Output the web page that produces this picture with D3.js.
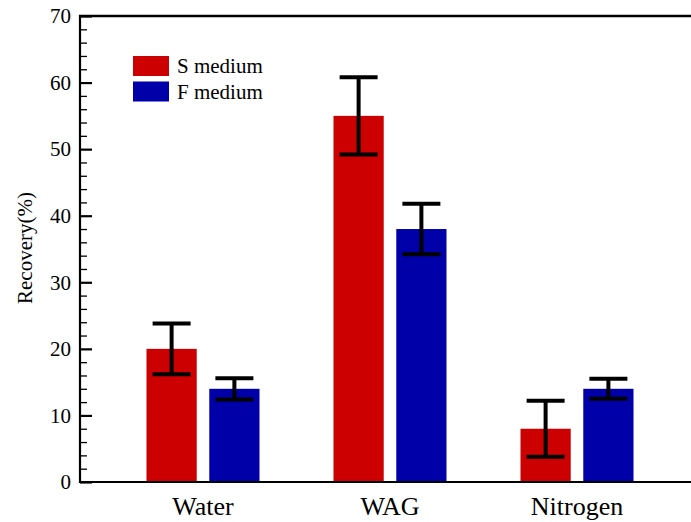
<!DOCTYPE html>
<html>
<head>
<meta charset="utf-8">
<script src="https://cdn.jsdelivr.net/npm/d3@7"></script>
<style>
  html, body { margin: 0; padding: 0; background: #fff; }
  svg { display: block; }
</style>
</head>
<body>
<svg id="chart" width="691" height="522"></svg>
<script>
const categories = ["Water", "WAG", "Nitrogen"];
const seriesNames = ["S medium", "F medium"];
const sMedium = [20, 55, 8];
const fMedium = [14, 38, 14];
const sError = [3.8, 5.8, 4.2];
const fError = [1.6, 3.8, 1.5];
const yTicks = [0, 10, 20, 30, 40, 50, 60, 70];
const colors = ["#cc0000", "#0000a8"];
const serif = "'Liberation Serif', 'Times New Roman', Times, serif";

const svg = d3.select("#chart");
const plotLeft = 80, plotTop = 16, plotBottom = 482;

const y = d3.scaleLinear().domain([0, 70]).range([plotBottom, plotTop]);
const x0 = d3.scaleBand().domain(categories).range([109.5, 670.5]).padding(0);
const x1 = d3.scaleBand().domain(seriesNames).range([-56.5, 56.5]).paddingInner(0.2);

const values = [sMedium, fMedium];
const errors = [sError, fError];
const data = [];
categories.forEach((c, i) => {
  seriesNames.forEach((s, j) => {
    data.push({cat: c, series: s, value: values[j][i], err: errors[j][i], color: colors[j]});
  });
});

// bars
svg.selectAll("rect.bar").data(data).enter().append("rect")
  .attr("class", "bar")
  .attr("x", d => x0(d.cat) + x0.bandwidth() / 2 + x1(d.series))
  .attr("width", x1.bandwidth())
  .attr("y", d => y(d.value))
  .attr("height", d => y(0) - y(d.value))
  .attr("fill", d => d.color);

// error bars
const cx = d => x0(d.cat) + x0.bandwidth() / 2 + x1(d.series) + x1.bandwidth() / 2;
const eg = svg.append("g").attr("stroke", "#000").attr("stroke-width", 4);
eg.selectAll("line.v").data(data).enter().append("line")
  .attr("x1", cx).attr("x2", cx)
  .attr("y1", d => y(d.value + d.err)).attr("y2", d => y(d.value - d.err));
eg.selectAll("line.t").data(data).enter().append("line")
  .attr("x1", d => cx(d) - 19).attr("x2", d => cx(d) + 19)
  .attr("y1", d => y(d.value + d.err)).attr("y2", d => y(d.value + d.err));
eg.selectAll("line.b").data(data).enter().append("line")
  .attr("x1", d => cx(d) - 19).attr("x2", d => cx(d) + 19)
  .attr("y1", d => y(d.value - d.err)).attr("y2", d => y(d.value - d.err));

// y axis (ticks inward)
const minorTicks = d3.range(0, 71, 2).filter(v => v % 10 !== 0);
const yAxisMinor = d3.axisRight(y).tickValues(minorTicks).tickSize(7).tickFormat("");
const gMinor = svg.append("g").attr("transform", `translate(${plotLeft},0)`).call(yAxisMinor);
gMinor.select(".domain").remove();
gMinor.selectAll("line").attr("stroke", "#000").attr("stroke-width", 1.3);

const yAxis = d3.axisRight(y).tickValues(yTicks).tickSize(12).tickFormat("");
const gY = svg.append("g").attr("transform", `translate(${plotLeft},0)`).call(yAxis);
gY.select(".domain").remove();
gY.selectAll("line").attr("stroke", "#000").attr("stroke-width", 2.2);

svg.selectAll("text.ytl").data(yTicks).enter().append("text")
  .attr("class", "ytl")
  .attr("x", plotLeft - 9).attr("y", d => y(d))
  .attr("dy", "0.35em")
  .attr("text-anchor", "end")
  .attr("font-family", serif)
  .attr("font-size", 21)
  .attr("fill", "#000")
  .text(d => d);

// frame lines
svg.append("line").attr("x1", plotLeft).attr("x2", plotLeft).attr("y1", plotTop - 1).attr("y2", plotBottom + 1)
  .attr("stroke", "#000").attr("stroke-width", 2.2);
svg.append("line").attr("x1", plotLeft - 1).attr("x2", 691).attr("y1", plotTop).attr("y2", plotTop)
  .attr("stroke", "#000").attr("stroke-width", 2.4);
svg.append("line").attr("x1", plotLeft - 1).attr("x2", 691).attr("y1", plotBottom).attr("y2", plotBottom)
  .attr("stroke", "#000").attr("stroke-width", 1.8);

// x labels
const xAxis = d3.axisBottom(x0).tickSize(0).tickPadding(0);
const gX = svg.append("g").attr("transform", `translate(0,${plotBottom})`).call(xAxis);
gX.select(".domain").remove();
gX.attr("font-family", serif).attr("font-size", 26);
gX.selectAll("text")
  .attr("font-size", 26)
  .attr("font-family", serif)
  .attr("fill", "#000")
  .attr("y", 33).attr("dy", 0);

// y title
svg.append("text")
  .attr("transform", `translate(32,248) rotate(-90)`)
  .attr("text-anchor", "middle")
  .attr("font-family", serif)
  .attr("font-size", 21)
  .attr("fill", "#000")
  .text("Recovery(%)");

// legend
const lg = svg.append("g");
seriesNames.forEach((s, i) => {
  lg.append("rect").attr("x", 133).attr("y", 56 + i * 25.5).attr("width", 36).attr("height", 20)
    .attr("fill", colors[i]);
  lg.append("text").attr("x", 177).attr("y", 73 + i * 25.5)
    .attr("font-family", serif).attr("font-size", 21).attr("fill", "#000").text(s);
});
</script>
</body>
</html>
